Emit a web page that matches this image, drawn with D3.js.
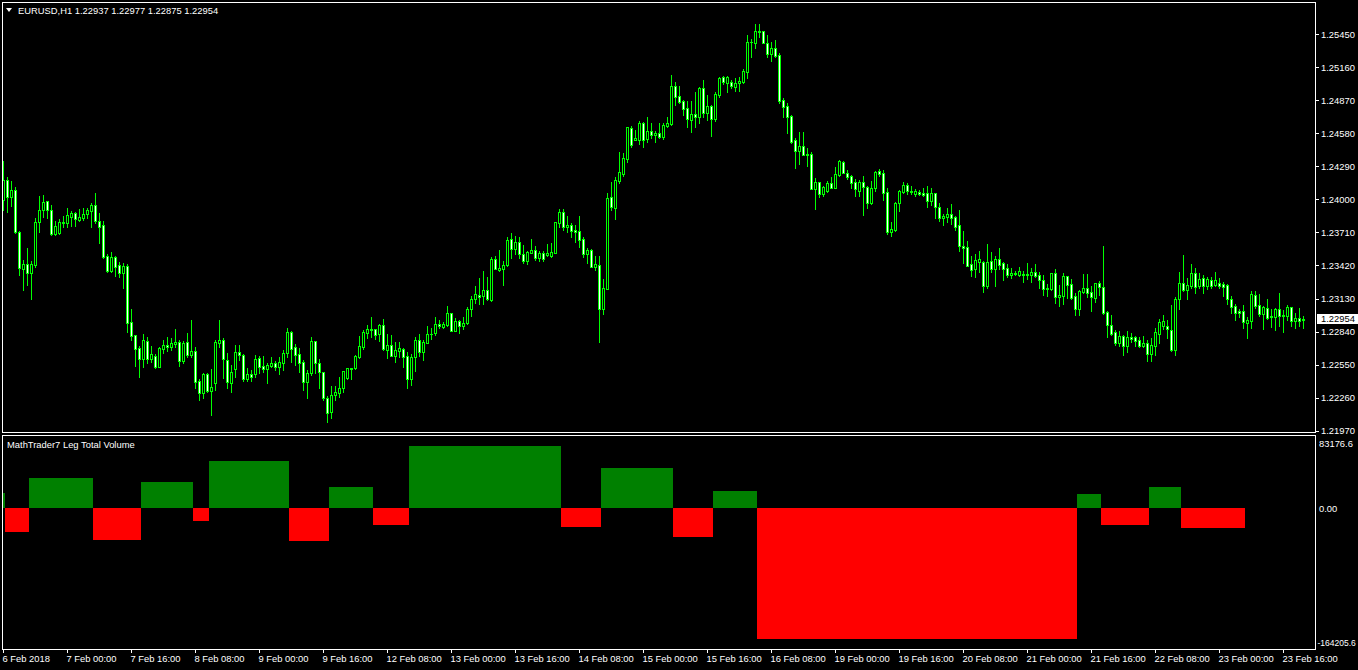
<!DOCTYPE html>
<html>
<head>
<meta charset="utf-8">
<title>EURUSD,H1</title>
<script src="https://cdnjs.cloudflare.com/ajax/libs/d3/7.8.5/d3.min.js"></script>
<style>
  html, body { margin: 0; padding: 0; background: #000; }
  svg { display: block; }
  text { font-family: "Liberation Sans", Arial, sans-serif; font-size: 9.4px; fill: #fff; }
</style>
</head>
<body>
<svg id="chart" width="1358" height="670"></svg>
<script>
const symbol = 'EURUSD,H1';
const indicatorName = 'MathTrader7 Leg Total Volume';

// hourly bars, 6 Feb 08:00 .. 23 Feb 21:00
const opens = [
  1.23995,1.24171,1.24019,1.24080,1.23717,1.23386,1.23430,1.23351,1.23424,1.23799,
  1.23905,1.23984,1.23905,1.23697,1.23703,1.23790,1.23790,1.23848,1.23881,1.23822,
  1.23837,1.23869,1.23901,1.23951,1.23811,1.23773,1.23503,1.23374,1.23492,1.23424,
  1.23357,1.23415,1.22921,1.22810,1.22693,1.22596,1.22757,1.22596,1.22625,1.22531,
  1.22689,1.22722,1.22707,1.22733,1.22746,1.22579,1.22746,1.22632,1.22669,1.22406,
  1.22298,1.22467,1.22321,1.22386,1.22742,1.22766,1.22590,1.22386,1.22514,1.22658,
  1.22632,1.22421,1.22467,1.22467,1.22605,1.22540,1.22514,1.22540,1.22564,1.22531,
  1.22566,1.22649,1.22836,1.22702,1.22640,1.22570,1.22400,1.22473,1.22757,1.22561,
  1.22482,1.22259,1.22136,1.22280,1.22298,1.22342,1.22430,1.22511,1.22517,1.22619,
  1.22707,1.22830,1.22860,1.22860,1.22818,1.22895,1.22678,1.22719,1.22625,1.22672,
  1.22687,1.22625,1.22421,1.22619,1.22766,1.22658,1.22742,1.22816,1.22830,1.22904,
  1.22883,1.22898,1.23003,1.22848,1.22933,1.22891,1.22915,1.23035,1.23123,1.23158,
  1.23155,1.23205,1.23117,1.23477,1.23380,1.23389,1.23424,1.23650,1.23565,1.23626,
  1.23518,1.23459,1.23532,1.23556,1.23488,1.23527,1.23510,1.23503,1.23532,1.23790,
  1.23890,1.23761,1.23775,1.23732,1.23720,1.23650,1.23518,1.23556,1.23409,1.23422,
  1.23035,1.23216,1.24019,1.23927,1.24164,1.24223,1.24358,1.24624,1.24522,1.24522,
  1.24668,1.24528,1.24601,1.24568,1.24581,1.24551,1.24647,1.24662,1.24996,1.24906,
  1.24862,1.24800,1.24700,1.24747,1.24726,1.24976,1.24762,1.24820,1.24704,1.24920,
  1.25072,1.25025,1.25031,1.24990,1.25020,1.25034,1.25122,1.25380,1.25376,1.25476,
  1.25476,1.25371,1.25274,1.25327,1.25268,1.24873,1.24820,1.24733,1.24522,1.24428,
  1.24469,1.24393,1.24399,1.24092,1.24150,1.24045,1.24074,1.24144,1.24103,1.24212,
  1.24326,1.24229,1.24206,1.24150,1.24077,1.24156,1.24112,1.23966,1.24098,1.24250,
  1.24229,1.24063,1.23717,1.23732,1.23966,1.24068,1.24127,1.24074,1.24050,1.24068,
  1.24059,1.24054,1.23989,1.24054,1.23931,1.23840,1.23848,1.23872,1.23846,1.23773,
  1.23591,1.23580,1.23430,1.23386,1.23453,1.23451,1.23240,1.23459,1.23389,1.23477,
  1.23439,1.23395,1.23336,1.23351,1.23339,1.23345,1.23339,1.23336,1.23360,1.23334,
  1.23293,1.23211,1.23211,1.23351,1.23146,1.23152,1.23328,1.23258,1.23152,1.23035,
  1.23190,1.23220,1.23185,1.23132,1.23269,1.23229,1.23009,1.22895,1.22836,1.22742,
  1.22801,1.22713,1.22795,1.22795,1.22766,1.22713,1.22737,1.22643,1.22713,1.22818,
  1.22889,1.22889,1.22854,1.22678,1.23123,1.23264,1.23205,1.23240,1.23351,1.23240,
  1.23308,1.23240,1.23293,1.23246,1.23269,1.23260,1.23249,1.23123,1.23064,1.23020,
  1.23020,1.22918,1.22935,1.23161,1.23073,1.22994,1.23049,1.22968,1.22970,1.23038,
  1.22976,1.22979,1.23056,1.22935,1.22959,1.22937
];
const highs = [
  1.24337,1.24194,1.24159,1.24109,1.23725,1.23468,1.23571,1.23459,1.23834,1.24030,
  1.24036,1.23989,1.23951,1.23811,1.23828,1.23854,1.23922,1.23901,1.23890,1.23913,
  1.23925,1.23922,1.23971,1.24059,1.23878,1.23811,1.23521,1.23538,1.23503,1.23451,
  1.23445,1.23433,1.23038,1.22810,1.22713,1.22818,1.22792,1.22713,1.22643,1.22702,
  1.22766,1.22790,1.22781,1.22862,1.22766,1.22760,1.22827,1.22941,1.22707,1.22421,
  1.22479,1.22473,1.22511,1.22766,1.22941,1.22783,1.22652,1.22546,1.22722,1.22722,
  1.22643,1.22520,1.22502,1.22634,1.22625,1.22625,1.22564,1.22617,1.22581,1.22619,
  1.22678,1.22869,1.22842,1.22731,1.22693,1.22590,1.22502,1.22790,1.22757,1.22596,
  1.22485,1.22274,1.22362,1.22362,1.22444,1.22494,1.22520,1.22520,1.22632,1.22801,
  1.22854,1.22898,1.22965,1.22862,1.22906,1.22950,1.22818,1.22810,1.22748,1.22746,
  1.22698,1.22663,1.22643,1.22790,1.22818,1.22766,1.22889,1.22869,1.22965,1.22939,
  1.22927,1.23064,1.23003,1.22962,1.22941,1.22968,1.23053,1.23152,1.23240,1.23308,
  1.23372,1.23319,1.23497,1.23503,1.23556,1.23459,1.23670,1.23708,1.23679,1.23670,
  1.23600,1.23547,1.23653,1.23591,1.23547,1.23547,1.23609,1.23617,1.23799,1.23916,
  1.23916,1.23854,1.23790,1.23775,1.23854,1.23673,1.23571,1.23567,1.23503,1.23503,
  1.23301,1.24054,1.24153,1.24200,1.24416,1.24405,1.24639,1.24645,1.24610,1.24689,
  1.24683,1.24724,1.24668,1.24601,1.24668,1.24668,1.24726,1.25093,1.25034,1.24996,
  1.24873,1.24864,1.24864,1.24943,1.24990,1.25049,1.24917,1.24829,1.24946,1.25072,
  1.25084,1.25084,1.25049,1.25064,1.25078,1.25143,1.25444,1.25406,1.25538,1.25538,
  1.25476,1.25444,1.25385,1.25400,1.25283,1.24888,1.24844,1.24741,1.24537,1.24592,
  1.24592,1.24454,1.24414,1.24186,1.24156,1.24121,1.24164,1.24200,1.24285,1.24346,
  1.24335,1.24258,1.24214,1.24177,1.24168,1.24206,1.24121,1.24162,1.24250,1.24265,
  1.24258,1.24103,1.23799,1.23980,1.24083,1.24150,1.24142,1.24115,1.24089,1.24083,
  1.24103,1.24118,1.24100,1.24059,1.23971,1.23872,1.23927,1.23957,1.23857,1.23907,
  1.23723,1.23635,1.23503,1.23521,1.23547,1.23459,1.23609,1.23538,1.23503,1.23576,
  1.23453,1.23430,1.23395,1.23374,1.23404,1.23374,1.23439,1.23395,1.23433,1.23363,
  1.23334,1.23258,1.23357,1.23392,1.23249,1.23351,1.23328,1.23299,1.23176,1.23205,
  1.23345,1.23345,1.23240,1.23269,1.23284,1.23591,1.23020,1.22985,1.22854,1.22842,
  1.22810,1.22848,1.22825,1.22801,1.22795,1.22801,1.22766,1.22786,1.22869,1.22948,
  1.22985,1.22941,1.23073,1.23146,1.23363,1.23512,1.23313,1.23433,1.23395,1.23357,
  1.23336,1.23322,1.23316,1.23363,1.23308,1.23272,1.23258,1.23152,1.23082,1.23035,
  1.23073,1.22970,1.23199,1.23199,1.23170,1.23064,1.23126,1.23035,1.23047,1.23179,
  1.23029,1.23073,1.23056,1.23006,1.23044,1.22977
];
const lows = [
  1.23907,1.23892,1.23945,1.23703,1.23336,1.23205,1.23249,1.23126,1.23409,1.23717,
  1.23848,1.23840,1.23688,1.23688,1.23697,1.23761,1.23755,1.23769,1.23767,1.23811,
  1.23819,1.23834,1.23761,1.23796,1.23620,1.23483,1.23366,1.23366,1.23328,1.23322,
  1.23225,1.22839,1.22766,1.22537,1.22444,1.22526,1.22566,1.22575,1.22517,1.22531,
  1.22649,1.22672,1.22678,1.22707,1.22537,1.22561,1.22614,1.22619,1.22347,1.22239,
  1.22254,1.22309,1.22107,1.22327,1.22707,1.22432,1.22344,1.22312,1.22444,1.22590,
  1.22408,1.22408,1.22408,1.22444,1.22473,1.22487,1.22391,1.22529,1.22502,1.22467,
  1.22502,1.22619,1.22575,1.22546,1.22487,1.22327,1.22259,1.22459,1.22479,1.22347,
  1.22239,1.22049,1.22084,1.22239,1.22268,1.22312,1.22426,1.22426,1.22509,1.22605,
  1.22689,1.22781,1.22790,1.22772,1.22760,1.22678,1.22605,1.22625,1.22575,1.22619,
  1.22526,1.22342,1.22371,1.22496,1.22625,1.22590,1.22737,1.22777,1.22810,1.22869,
  1.22869,1.22891,1.22848,1.22848,1.22830,1.22865,1.22904,1.22979,1.23093,1.23085,
  1.23085,1.23117,1.23111,1.23386,1.23374,1.23249,1.23415,1.23483,1.23521,1.23483,
  1.23439,1.23433,1.23527,1.23468,1.23459,1.23459,1.23503,1.23497,1.23532,1.23761,
  1.23732,1.23717,1.23673,1.23629,1.23585,1.23497,1.23445,1.23409,1.23380,1.22751,
  1.22994,1.23211,1.23907,1.23828,1.24147,1.24206,1.24331,1.24458,1.24522,1.24487,
  1.24463,1.24507,1.24537,1.24507,1.24537,1.24531,1.24639,1.24654,1.24829,1.24844,
  1.24741,1.24639,1.24595,1.24639,1.24674,1.24726,1.24697,1.24560,1.24691,1.24902,
  1.25013,1.24946,1.24976,1.24955,1.24955,1.25025,1.25064,1.25253,1.25332,1.25424,
  1.25371,1.25253,1.25218,1.25253,1.24849,1.24726,1.24586,1.24493,1.24279,1.24311,
  1.24388,1.24296,1.24092,1.23916,1.24024,1.24033,1.24063,1.24098,1.24098,1.24206,
  1.24235,1.24177,1.24103,1.24033,1.24033,1.23863,1.23927,1.23960,1.24077,1.24206,
  1.23995,1.23694,1.23682,1.23723,1.23898,1.24054,1.24048,1.24045,1.24033,1.24036,
  1.24033,1.23931,1.23951,1.23834,1.23813,1.23775,1.23804,1.23782,1.23732,1.23550,
  1.23445,1.23415,1.23328,1.23322,1.23366,1.23190,1.23220,1.23366,1.23243,1.23386,
  1.23293,1.23322,1.23313,1.23336,1.23328,1.23278,1.23299,1.23278,1.23316,1.23225,
  1.23161,1.23155,1.23205,1.23093,1.23067,1.23079,1.23132,1.23126,1.22985,1.22985,
  1.23176,1.23146,1.23023,1.23102,1.23161,1.22994,1.22795,1.22810,1.22722,1.22713,
  1.22634,1.22663,1.22751,1.22713,1.22707,1.22702,1.22584,1.22581,1.22634,1.22737,
  1.22860,1.22781,1.22672,1.22634,1.23035,1.23196,1.23123,1.23220,1.23181,1.23220,
  1.23181,1.23211,1.23220,1.23240,1.23220,1.23152,1.23082,1.23006,1.22941,1.22965,
  1.22874,1.22786,1.22874,1.23049,1.22976,1.22862,1.22953,1.22883,1.22854,1.22889,
  1.22839,1.22941,1.22889,1.22874,1.22889,1.22875
];
const closes = [
  1.24171,1.24019,1.24080,1.23717,1.23395,1.23430,1.23351,1.23430,1.23799,1.23905,
  1.23975,1.23907,1.23697,1.23767,1.23799,1.23802,1.23861,1.23883,1.23826,1.23846,
  1.23875,1.23907,1.23951,1.23811,1.23761,1.23495,1.23374,1.23492,1.23409,1.23357,
  1.23415,1.22918,1.22804,1.22684,1.22596,1.22763,1.22596,1.22643,1.22531,1.22693,
  1.22722,1.22707,1.22737,1.22748,1.22579,1.22737,1.22634,1.22667,1.22400,1.22298,
  1.22467,1.22321,1.22356,1.22748,1.22766,1.22596,1.22400,1.22487,1.22660,1.22632,
  1.22426,1.22467,1.22444,1.22599,1.22531,1.22509,1.22546,1.22561,1.22531,1.22573,
  1.22649,1.22836,1.22689,1.22637,1.22566,1.22400,1.22473,1.22757,1.22561,1.22482,
  1.22254,1.22128,1.22280,1.22307,1.22342,1.22491,1.22517,1.22517,1.22625,1.22713,
  1.22836,1.22860,1.22854,1.22812,1.22898,1.22687,1.22719,1.22625,1.22678,1.22696,
  1.22614,1.22421,1.22619,1.22766,1.22658,1.22746,1.22816,1.22818,1.22904,1.22891,
  1.22904,1.23003,1.22848,1.22933,1.22891,1.22915,1.23038,1.23126,1.23170,1.23146,
  1.23205,1.23126,1.23477,1.23389,1.23395,1.23424,1.23644,1.23565,1.23626,1.23518,
  1.23459,1.23541,1.23556,1.23488,1.23527,1.23477,1.23530,1.23538,1.23799,1.23890,
  1.23761,1.23775,1.23725,1.23717,1.23644,1.23518,1.23556,1.23409,1.23433,1.23035,
  1.23220,1.24010,1.23936,1.24171,1.24238,1.24361,1.24633,1.24478,1.24537,1.24668,
  1.24522,1.24601,1.24566,1.24581,1.24551,1.24654,1.24668,1.24996,1.24902,1.24858,
  1.24797,1.24709,1.24747,1.24726,1.24976,1.24762,1.24818,1.24704,1.24926,1.25066,
  1.25031,1.25072,1.24999,1.25020,1.25040,1.25128,1.25380,1.25382,1.25476,1.25473,
  1.25371,1.25274,1.25327,1.25262,1.24867,1.24814,1.24726,1.24507,1.24428,1.24469,
  1.24393,1.24399,1.24092,1.24153,1.24045,1.24107,1.24144,1.24103,1.24221,1.24335,
  1.24235,1.24200,1.24147,1.24089,1.24156,1.24112,1.23966,1.24098,1.24238,1.24221,
  1.24059,1.23717,1.23740,1.23971,1.24074,1.24127,1.24077,1.24063,1.24074,1.24050,
  1.24042,1.23989,1.24054,1.23931,1.23840,1.23857,1.23872,1.23840,1.23761,1.23594,
  1.23576,1.23418,1.23380,1.23468,1.23477,1.23243,1.23451,1.23389,1.23477,1.23424,
  1.23389,1.23336,1.23351,1.23345,1.23369,1.23339,1.23345,1.23360,1.23328,1.23293,
  1.23211,1.23222,1.23351,1.23146,1.23161,1.23328,1.23249,1.23137,1.23038,1.23193,
  1.23220,1.23181,1.23141,1.23264,1.23234,1.23006,1.22895,1.22818,1.22742,1.22801,
  1.22713,1.22790,1.22772,1.22760,1.22713,1.22739,1.22643,1.22722,1.22836,1.22924,
  1.22933,1.22860,1.22678,1.23123,1.23264,1.23205,1.23246,1.23351,1.23234,1.23299,
  1.23240,1.23299,1.23240,1.23293,1.23243,1.23234,1.23128,1.23058,1.23006,1.23006,
  1.22927,1.22941,1.23170,1.23067,1.22994,1.23053,1.22962,1.22976,1.23038,1.22976,
  1.22985,1.23056,1.22930,1.22962,1.22933,1.22954
];

const priceTicks = [1.25450, 1.25160, 1.24870, 1.24580, 1.24290, 1.24000, 1.23710,
                    1.23420, 1.23130, 1.22840, 1.22550, 1.22260, 1.21970];
const priceRange = [1.21958, 1.25751];

// one label every 16 bars
const timeLabels = ['6 Feb 2018', '7 Feb 00:00', '7 Feb 16:00', '8 Feb 08:00', '9 Feb 00:00',
  '9 Feb 16:00', '12 Feb 08:00', '13 Feb 00:00', '13 Feb 16:00', '14 Feb 08:00',
  '15 Feb 00:00', '15 Feb 16:00', '16 Feb 08:00', '19 Feb 00:00', '19 Feb 16:00',
  '20 Feb 08:00', '21 Feb 00:00', '21 Feb 16:00', '22 Feb 08:00', '23 Feb 00:00', '23 Feb 16:00'];

// indicator legs: first bar, last bar, total volume
const legStart  = [0, 1, 7, 23, 35, 48, 52, 72, 82, 93, 102, 140, 150, 168, 178, 189, 269, 275, 287, 295];
const legEnd    = [0, 6, 22, 34, 47, 51, 71, 81, 92, 101, 139, 149, 167, 177, 188, 268, 274, 286, 294, 310];
const legVolume = [17940, -27790, 35170, -37170, 30480, -14890, 55110, -38690, 24620, -19930,
                   72690, -22280, 46900, -34000, 19930, -153590, 16410, -19930, 24620, -23450];
const volTicks = [83176.6, 0, -164205.6];

const svg = d3.select('#chart');
const nBars = closes.length;
const last = nBars - 1;

const x = d3.scaleLinear().domain([0, last]).range([3, 3 + 4 * last]);
const y = d3.scaleLinear().domain(priceRange).range([432, 0]);
const yVol = d3.scaleLinear().domain([d3.min(volTicks), d3.max(volTicks)]).range([648, 437]);

// clip areas for both windows
const defs = svg.append('defs');
defs.append('clipPath').attr('id', 'clipMain')
  .append('rect').attr('x', 3).attr('y', 3).attr('width', 1312).attr('height', 429);
defs.append('clipPath').attr('id', 'clipSub')
  .append('rect').attr('x', 3).attr('y', 436).attr('width', 1312).attr('height', 213);

// candles
const bars = d3.range(nBars).map(i => ({ i: i, o: opens[i], h: highs[i], l: lows[i], c: closes[i] }));
const gMain = svg.append('g').attr('clip-path', 'url(#clipMain)').attr('shape-rendering', 'crispEdges');

gMain.selectAll('rect.wick').data(bars).join('rect')
  .attr('class', 'wick')
  .attr('x', d => x(d.i))
  .attr('y', d => Math.round(y(d.h)))
  .attr('width', 1)
  .attr('height', d => Math.max(1, Math.round(y(d.l)) - Math.round(y(d.h)) + 1))
  .attr('fill', '#00ff00');

function bodyTop(d) { return Math.round(y(Math.max(d.o, d.c))); }
function bodyHeight(d) { return Math.max(1, Math.round(y(Math.min(d.o, d.c))) - bodyTop(d) + 1); }

gMain.selectAll('rect.body').data(bars).join('rect')
  .attr('class', 'body')
  .attr('x', d => x(d.i) - 1)
  .attr('y', bodyTop)
  .attr('width', 3)
  .attr('height', bodyHeight)
  .attr('fill', '#00ff00');

// bull bodies hollow (black), bear bodies white
gMain.selectAll('rect.inner').data(bars.filter(d => bodyHeight(d) > 2)).join('rect')
  .attr('class', 'inner')
  .attr('x', d => x(d.i))
  .attr('y', d => bodyTop(d) + 1)
  .attr('width', 1)
  .attr('height', d => bodyHeight(d) - 2)
  .attr('fill', d => d.c < d.o ? '#ffffff' : '#000000');

// indicator histogram
const legs = legVolume.map((v, k) => ({ s: legStart[k], e: legEnd[k], v: v }));
const gSub = svg.append('g').attr('clip-path', 'url(#clipSub)').attr('shape-rendering', 'crispEdges');
gSub.selectAll('rect').data(legs).join('rect')
  .attr('x', d => x(d.s) - 2)
  .attr('width', d => x(d.e) - x(d.s) + 4)
  .attr('y', d => Math.round(yVol(Math.max(0, d.v))))
  .attr('height', d => Math.abs(Math.round(yVol(d.v)) - Math.round(yVol(0))))
  .attr('fill', d => d.v >= 0 ? '#008000' : '#ff0000');

// window frames
const frames = svg.append('g').attr('fill', 'none').attr('stroke', '#fff').attr('shape-rendering', 'crispEdges');
frames.append('rect').attr('x', 2.5).attr('y', 2.5).attr('width', 1313).attr('height', 430);
frames.append('rect').attr('x', 2.5).attr('y', 435.5).attr('width', 1313).attr('height', 214);

// price scale
const pAxis = svg.append('g');
pAxis.selectAll('line').data(priceTicks).join('line')
  .attr('x1', 1316).attr('x2', 1319)
  .attr('y1', d => Math.round(y(d)) + 0.5).attr('y2', d => Math.round(y(d)) + 0.5)
  .attr('stroke', '#fff');
pAxis.selectAll('text').data(priceTicks).join('text')
  .attr('x', 1321).attr('y', d => y(d) + 3.5)
  .text(d => d.toFixed(5));

// current price marker
const lastY = y(closes[last]);
svg.append('rect').attr('x', 1317).attr('y', Math.round(lastY) - 5).attr('width', 41).attr('height', 10)
  .attr('fill', '#fff');
svg.append('text').attr('x', 1321).attr('y', lastY + 3.5).style('fill', '#000')
  .text(closes[last].toFixed(5));

// indicator scale
svg.append('text').attr('x', 1319).attr('y', yVol(volTicks[0]) + 10).text(volTicks[0].toFixed(1));
svg.append('text').attr('x', 1319).attr('y', yVol(0) + 3.6).text(volTicks[1].toFixed(2));
svg.append('text').attr('x', 1317.5).attr('y', yVol(volTicks[2]) - 2.5)
  .style('font-size', '8.5px')
  .text(volTicks[2].toFixed(1));

// time scale
const tAxis = svg.append('g');
tAxis.selectAll('line').data(timeLabels).join('line')
  .attr('x1', (d, k) => x(16 * k) + 0.5).attr('x2', (d, k) => x(16 * k) + 0.5)
  .attr('y1', 649).attr('y2', 653)
  .attr('stroke', '#fff');
tAxis.selectAll('text').data(timeLabels).join('text')
  .attr('x', (d, k) => x(16 * k) - 0.5).attr('y', 662)
  .text(d => d);

// window titles
svg.append('path').attr('d', 'M6,8L12,8L9,12Z').attr('fill', '#fff');
svg.append('text').attr('x', 18).attr('y', 14)
  .text(symbol + '  ' + [opens[last], highs[last], lows[last], closes[last]].map(v => v.toFixed(5)).join(' '));
svg.append('text').attr('x', 7).attr('y', 448).text(indicatorName);
</script>
</body>
</html>
